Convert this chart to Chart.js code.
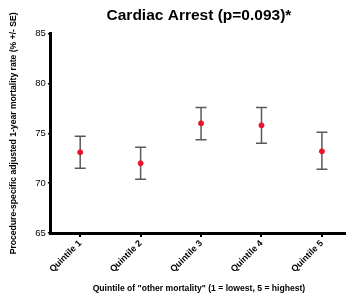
<!DOCTYPE html>
<html>
<head>
<meta charset="utf-8">
<script src="https://cdn.jsdelivr.net/npm/chart.js@4"></script>
<style>
  html, body { margin: 0; padding: 0; background: #fff; overflow: hidden; }
  #wrap { width: 352px; height: 301px; }
</style>
</head>
<body>
<div id="wrap"><canvas id="c"></canvas></div>
<script>
// ── DATA ────────────────────────────────────────────────────────────────────────
const categories = ['Quintile 1', 'Quintile 2', 'Quintile 3', 'Quintile 4', 'Quintile 5'];
const means = [73.1, 72.0, 76.0, 75.8, 73.2];
const upper = [74.7, 73.6, 77.6, 77.6, 75.1];
const lower = [71.5, 70.4, 74.35, 74.0, 71.4];
const yTicks = [65, 70, 75, 80, 85];

const FONT = "'Liberation Sans', Arial, sans-serif";

// error bars drawn through the chart's own scales
const errorBars = {
  id: 'errorBars',
  beforeDatasetsDraw(chart) {
    const { ctx, scales: { x, y } } = chart;
    ctx.save();
    ctx.strokeStyle = '#5a5a5a';
    ctx.lineWidth = 1.5;
    means.forEach((m, i) => {
      const px = x.getPixelForValue(i);
      const top = y.getPixelForValue(upper[i]);
      const bot = y.getPixelForValue(lower[i]);
      ctx.beginPath();
      ctx.moveTo(px, top); ctx.lineTo(px, bot);
      ctx.moveTo(px - 5.5, top); ctx.lineTo(px + 5.5, top);
      ctx.moveTo(px - 5.5, bot); ctx.lineTo(px + 5.5, bot);
      ctx.stroke();
    });
    ctx.restore();
  }
};

new Chart(document.getElementById('c'), {
  type: 'scatter',
  data: {
    datasets: [{
      data: means.map((m, i) => ({ x: i, y: m })),
      pointBackgroundColor: '#e8142e',
      pointBorderColor: '#e8142e',
      pointRadius: 2.5,
      showLine: false
    }]
  },
  options: {
    responsive: true,
    maintainAspectRatio: false,
    animation: false,
    layout: { padding: { left: 8, right: 0, top: 6, bottom: 7 } },
    plugins: {
      legend: { display: false },
      tooltip: { enabled: false },
      title: {
        display: true,
        text: 'Cardiac Arrest (p=0.093)*',
        fullSize: false,
        color: '#000',
        font: { family: FONT, size: 15.5, weight: 'bold' },
        padding: { top: 0, bottom: 9 }
      }
    },
    scales: {
      x: {
        type: 'linear',
        min: -0.485,
        max: 4.415,
        afterBuildTicks: s => { s.ticks = categories.map((c, i) => ({ value: i })); },
        ticks: {
          autoSkip: false,
          maxRotation: 45,
          minRotation: 45,
          color: '#000',
          padding: 1,
          font: { family: FONT, size: 9, weight: 'bold' },
          callback: (v) => categories[v]
        },
        grid: { drawOnChartArea: false, drawTicks: true, tickLength: 4, color: '#000', lineWidth: 2 },
        border: { color: '#000', width: 3 },
        title: {
          display: true,
          text: 'Quintile of "other mortality" (1 = lowest, 5 = highest)',
          color: '#000',
          font: { family: FONT, size: 8.6, weight: 'bold' },
          padding: { top: 8, bottom: 0 }
        }
      },
      y: {
        min: 65,
        max: 85,
        afterBuildTicks: s => { s.ticks = yTicks.map(v => ({ value: v })); },
        ticks: {
          color: '#000',
          padding: 2,
          font: { family: FONT, size: 9.5 }
        },
        grid: { drawOnChartArea: false, drawTicks: true, tickLength: 3, color: '#000', lineWidth: 1.5 },
        border: { color: '#000', width: 3 },
        title: {
          display: true,
          text: 'Procedure-specific adjusted 1-year mortality rate (% +/- SE)',
          color: '#000',
          font: { family: FONT, size: 8.6, weight: 'bold' },
          padding: { top: 0, bottom: 15 }
        }
      }
    }
  },
  plugins: [errorBars]
});
</script>
</body>
</html>
